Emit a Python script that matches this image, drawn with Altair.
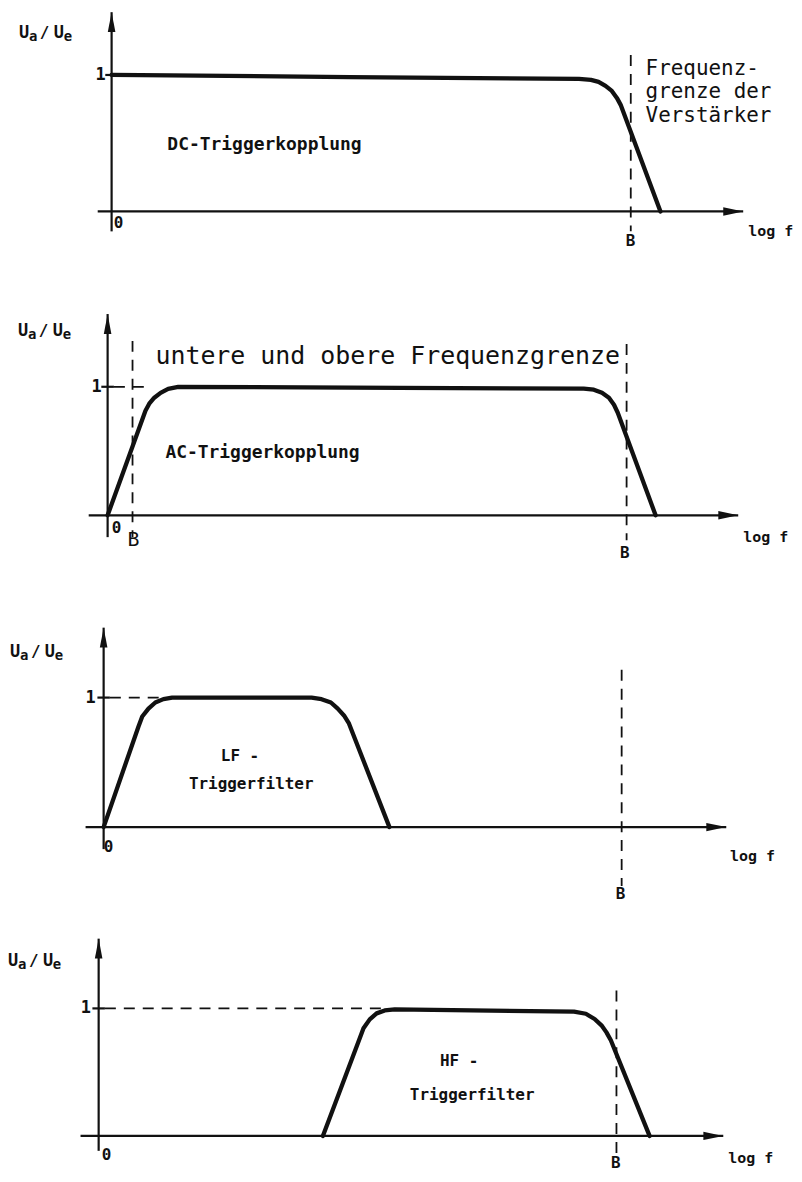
import altair as alt
import pandas as pd

# ---------------- data ----------------
# x: log f in drawing units (0 = ordinate, 10 = arrow tip); y: Ua/Ue
dc_logf = [0.0, 3.77, 7.40, 7.59, 7.71, 7.82, 7.92, 8.00, 8.06, 8.69]
dc_gain = [1.0, 0.985, 0.971, 0.964, 0.949, 0.920, 0.883, 0.832, 0.781, 0.0]

ac_logf = [0.0, 0.60, 0.66, 0.74, 0.84, 0.96, 1.12, 4.63, 7.55, 7.71, 7.84, 7.95, 8.03, 8.09, 8.69]
ac_gain = [0.0, 0.814, 0.868, 0.915, 0.953, 0.984, 1.0, 0.992, 0.985, 0.977, 0.953, 0.915, 0.860, 0.798, 0.0]

lf_logf = [0.0, 0.56, 0.62, 0.72, 0.83, 0.96, 1.10, 3.34, 3.50, 3.65, 3.76, 3.86, 3.94, 4.59]
lf_gain = [0.0, 0.777, 0.854, 0.915, 0.962, 0.988, 1.0, 1.0, 0.988, 0.962, 0.915, 0.862, 0.80, 0.0]

hf_logf = [3.59, 4.18, 4.24, 4.34, 4.45, 4.58, 4.74, 7.61, 7.80, 7.94, 8.05, 8.13, 8.20, 8.82]
hf_gain = [0.0, 0.766, 0.844, 0.914, 0.961, 0.984, 0.992, 0.975, 0.958, 0.917, 0.867, 0.812, 0.75, 0.0]

b_upper = [8.22, 8.23, 8.32, 8.29]      # upper frequency limit B, per panel
b_lower_ac = 0.395                       # lower frequency limit B (AC coupling)

# ---------------- layout / style ----------------
W = 786
FONT = "DejaVu Sans Mono"
INK = "#111111"
ARROW_UP = "M0,0L0.38,2L-0.38,2Z"
ARROW_RIGHT = "M0,0L-2,-0.42L-2,0.42Z"

PANELS = [
    dict(name="DC", logf=dc_logf, gain=dc_gain, x0=111, ppu=63.4, y0=210, gpp=137, top=8, h=252,
         xl=-0.22, gb=-0.146, gt=1.46,
         dashed=[(b_upper[0], 1.146, b_upper[0], -0.146)],
         bold18=[("DC-Triggerkopplung", 0.883, 0.489)],
         one=(-0.174, 1.0),
         small=[("0", 0.11, -0.088, "center", 16), ("B", 8.218, -0.219, "center", 16),
                ("log f", 10.08, -0.146, "left", 15)],
         reg=[("Frequenz-", 8.454, 1.044, 21), ("grenze der", 8.454, 0.872, 21), ("Verstärker", 8.454, 0.701, 21)],
         uaue=(-1.467, 1.307)),
    dict(name="AC", logf=ac_logf, gain=ac_gain, x0=107, ppu=63.3, y0=515, gpp=129, top=260, h=310,
         xl=-0.30, gb=-0.17, gt=1.566,
         dashed=[(b_lower_ac, 1.357, b_lower_ac, -0.17), (b_upper[1], 1.333, b_upper[1], -0.194),
                 (0.1, 1.0, 0.62, 1.0)],
         bold18=[("AC-Triggerkopplung", 0.916, 0.481)],
         one=(-0.174, 1.0),
         small=[("0", 0.142, -0.101, "center", 16), ("B", 8.2, -0.295, "center", 16),
                ("log f", 10.08, -0.171, "left", 15)],
         reg=[("untere und obere Frequenzgrenze", 0.758, 1.24, 25)],
         regc=[("B", 0.411, -0.194, 20)],
         uaue=(-1.422, 1.434)),
    dict(name="LF", logf=lf_logf, gain=lf_gain, x0=103, ppu=62.5, y0=828, gpp=130, top=570, h=332,
         xl=-0.29, gb=-0.17, gt=1.54,
         dashed=[(b_upper[2], 1.215, b_upper[2], -0.454), (0.1, 1.0, 0.95, 1.0)],
         bold16=[("LF -", 2.19, 0.546), ("Triggerfilter", 2.37, 0.331)],
         one=(-0.208, 1.0),
         small=[("0", 0.08, -0.154, "center", 16), ("B", 8.304, -0.515, "center", 16),
                ("log f", 10.06, -0.223, "left", 15)],
         uaue=(-1.504, 1.354)),
    dict(name="HF", logf=hf_logf, gain=hf_gain, x0=98, ppu=62.7, y0=1138, gpp=128, top=902, h=270,
         xl=-0.29, gb=-0.117, gt=1.547,
         dashed=[(b_upper[3], 1.14, b_upper[3], -0.172), (0.1, 1.0, 4.6, 1.0)],
         bold16=[("HF -", 5.77, 0.586), ("Triggerfilter", 5.98, 0.32)],
         one=(-0.207, 1.0),
         small=[("0", 0.128, -0.148, "center", 16), ("B", 8.278, -0.211, "center", 16),
                ("log f", 10.08, -0.172, "left", 15)],
         uaue=(-1.451, 1.375)),
]


def panel(p):
    xs = alt.Scale(domain=[(8 - p["x0"]) / p["ppu"], (8 + W - p["x0"]) / p["ppu"]], nice=False, zero=False)
    ys = alt.Scale(domain=[(p["y0"] - p["top"] - p["h"]) / p["gpp"], (p["y0"] - p["top"]) / p["gpp"]],
                   nice=False, zero=False)

    def X(f):
        return alt.X(f, type="quantitative", scale=xs, axis=None)

    def Y(f):
        return alt.Y(f, type="quantitative", scale=ys, axis=None)

    layers = []

    # axes lines + tick at 1
    axes = pd.DataFrame([(p["xl"], 0.0, 10.0, 0.0), (0.0, p["gb"], 0.0, p["gt"]), (-0.1, 1.0, 0.1, 1.0)],
                        columns=["u", "g", "u2", "g2"])
    layers.append(alt.Chart(axes).mark_rule(strokeWidth=2.2, color=INK).encode(
        x=X("u"), y=Y("g"), x2=alt.X2("u2"), y2=alt.Y2("g2")))

    # dashed guide lines
    dsh = pd.DataFrame(p["dashed"], columns=["u", "g", "u2", "g2"])
    layers.append(alt.Chart(dsh).mark_rule(strokeWidth=1.8, strokeDash=[11, 8], color=INK).encode(
        x=X("u"), y=Y("g"), x2=alt.X2("u2"), y2=alt.Y2("g2")))

    # arrow heads
    arr = pd.DataFrame({"u": [10.0, 0.0], "g": [0.0, p["gt"]], "dir": ["right", "up"]})
    layers.append(alt.Chart(arr).mark_point(filled=True, opacity=1, color=INK, size=400).encode(
        x=X("u"), y=Y("g"),
        shape=alt.Shape("dir:N", scale=alt.Scale(domain=["up", "right"], range=[ARROW_UP, ARROW_RIGHT]),
                        legend=None)))

    # response curve
    cur = pd.DataFrame({"u": p["logf"], "g": p["gain"]})
    layers.append(alt.Chart(cur).mark_line(interpolate="linear", strokeWidth=4.3, strokeCap="round",
                                           strokeJoin="round", color=INK).encode(x=X("u"), y=Y("g")))

    def txt(rows, size, weight, align, dx=0, dy=0):
        df = pd.DataFrame(rows, columns=["t", "u", "g"])
        return alt.Chart(df).mark_text(font=FONT, fontSize=size, fontWeight=weight, align=align,
                                       baseline="middle", color=INK, dx=dx, dy=dy).encode(
            x=X("u"), y=Y("g"), text="t:N")

    if "bold18" in p:
        layers.append(txt(p["bold18"], 18, "bold", "left"))
    if "bold16" in p:
        layers.append(txt(p["bold16"], 16, "bold", "center"))
    layers.append(txt([("1",) + p["one"]], 17, "bold", "center"))
    for t, u, g, al, s in p["small"]:
        layers.append(txt([(t, u, g)], s, "bold", al))
    for t, u, g, s in p.get("reg", []):
        layers.append(txt([(t, u, g)], s, "normal", "left"))
    for t, u, g, s in p.get("regc", []):
        layers.append(txt([(t, u, g)], s, "normal", "center"))

    # U_a / U_e label
    u, g = p["uaue"]
    layers.append(txt([("U", u, g)], 17, "bold", "left"))
    layers.append(txt([("a", u, g)], 14, "bold", "left", dx=10, dy=4))
    layers.append(txt([("/", u, g)], 16, "bold", "left", dx=21))
    layers.append(txt([("U", u, g)], 17, "bold", "left", dx=35))
    layers.append(txt([("e", u, g)], 14, "bold", "left", dx=45, dy=4))

    return alt.layer(*layers).properties(width=W, height=p["h"])


chart = alt.vconcat(*[panel(p) for p in PANELS], spacing=0, bounds="flush").properties(
    padding=0, background="white"
).configure_view(stroke=None)

chart.save("out.html", embed_options={"renderer": "svg", "actions": False})
